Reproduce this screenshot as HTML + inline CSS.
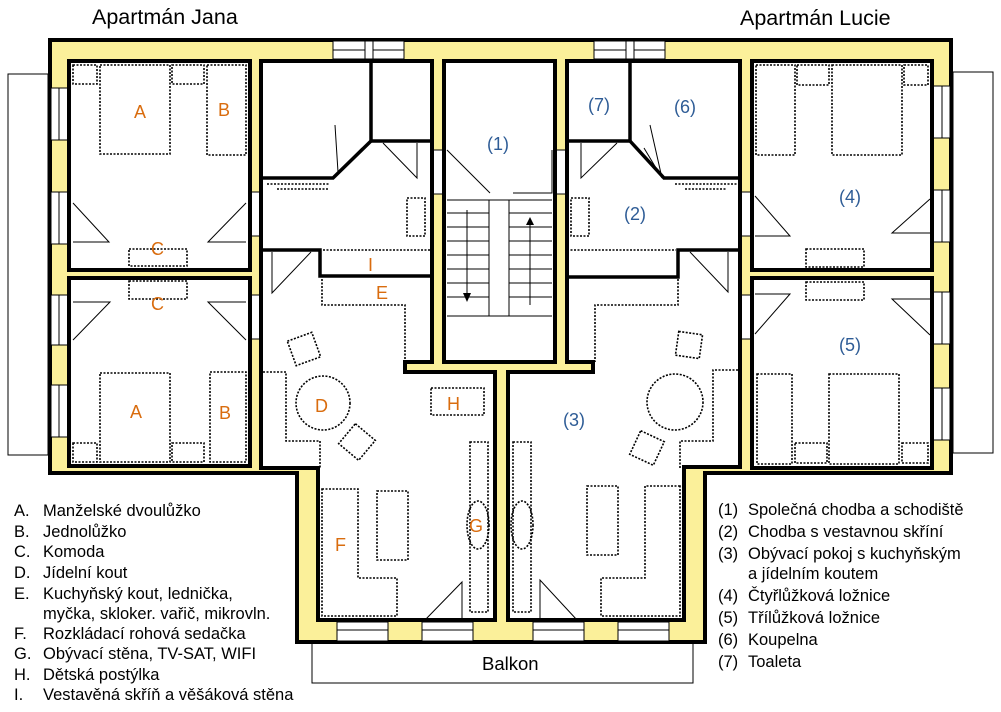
<!DOCTYPE html>
<html><head><meta charset="utf-8"><style>
body{margin:0;background:#fff;width:1001px;height:712px;overflow:hidden}
svg{display:block}
text{font-family:"Liberation Sans",sans-serif}
.o{fill:#d96c0e;font-size:18px}
.b{fill:#2e5c96;font-size:18px}
.k{fill:#000;font-size:16.5px}
.w{fill:#fff;stroke:#000;stroke-width:4}
.d{fill:none;stroke:#000;stroke-width:1.6;stroke-dasharray:2 1.5}
.t{fill:none;stroke:#000;stroke-width:1}
.win{fill:#fff;stroke:#000;stroke-width:1}
</style></head><body>
<svg width="1001" height="712" viewBox="0 0 1001 712">
<text x="92" y="24" style="font-size:21.5px">Apartmán Jana</text>
<text x="740" y="25" style="font-size:21.5px">Apartmán Lucie</text>
<rect x="8" y="74" width="40" height="381" class="t"/>
<rect x="953" y="72" width="40" height="381" class="t"/>
<rect x="312" y="643" width="381" height="40" class="t"/>
<text x="482" y="670" style="font-size:18.5px">Balkon</text>
<polygon points="50,40 951,40 951,473 705,473 705,642 297,642 297,473 50,473" fill="#fbf09a" stroke="#000" stroke-width="4"/>
<rect x="333" y="41" width="71" height="18" class="win"/><line x1="333" y1="50" x2="404" y2="50" class="t"/><rect x="365" y="41" width="8" height="18" class="win"/>
<rect x="594" y="41" width="71" height="18" class="win"/><line x1="594" y1="50" x2="665" y2="50" class="t"/><rect x="626" y="41" width="8" height="18" class="win"/>
<g class="win"><rect x="337" y="622" width="51" height="19"/><rect x="422" y="622" width="51" height="19"/><rect x="533" y="622" width="51" height="19"/><rect x="618" y="622" width="51" height="19"/></g>
<g class="t"><line x1="337" y1="630" x2="388" y2="630"/><line x1="422" y1="630" x2="473" y2="630"/><line x1="533" y1="630" x2="584" y2="630"/><line x1="618" y1="630" x2="669" y2="630"/></g>
<g class="win"><rect x="51" y="88" width="17" height="52"/><rect x="51" y="192" width="17" height="52"/><rect x="51" y="295" width="17" height="50"/><rect x="51" y="385" width="17" height="52"/>
<rect x="933" y="86" width="17" height="52"/><rect x="933" y="190" width="17" height="52"/><rect x="933" y="292" width="17" height="52"/><rect x="933" y="388" width="17" height="52"/>
<rect x="251" y="192" width="9" height="44"/><rect x="251" y="295" width="9" height="44"/><rect x="741" y="192" width="10" height="44"/><rect x="741" y="295" width="10" height="44"/>
<rect x="433" y="150" width="10" height="44"/><rect x="556" y="150" width="10" height="44"/></g>
<g class="t"><line x1="59" y1="88" x2="59" y2="140"/><line x1="59" y1="192" x2="59" y2="244"/><line x1="59" y1="295" x2="59" y2="345"/><line x1="59" y1="385" x2="59" y2="437"/>
<line x1="942" y1="86" x2="942" y2="138"/><line x1="942" y1="190" x2="942" y2="242"/><line x1="942" y1="292" x2="942" y2="344"/><line x1="942" y1="388" x2="942" y2="440"/></g>
<rect x="69" y="61" width="181" height="209" class="w"/>
<rect x="69" y="278" width="181" height="188" class="w"/>
<rect x="752" y="61" width="180" height="209" class="w"/>
<rect x="752" y="278" width="180" height="190" class="w"/>
<rect x="444" y="61" width="111" height="301" class="w"/>
<polygon class="w" points="261,61 432,61 432,362 405,362 405,372 495,372 495,620 318,620 318,468 261,468"/>
<polygon class="w" points="567,61 740,61 740,467 684,467 684,620 508,620 508,372 593,372 593,362 567,362"/>
<g stroke="#000" stroke-width="3.5" fill="none">
<polyline points="371,61 371,141 432,141"/><polyline points="371,141 333,178 261,178"/>
<polyline points="261,250 320,250 320,276 432,276"/>
<polyline points="630,61 630,141 567,141"/><polyline points="630,141 664,178 740,178"/>
<polyline points="740,250 678,250 678,277 567,277"/>
</g>
<g class="t">
<polyline points="335,125 338,172 362,148"/><polyline points="383,143 417,178 417,143"/>
<polyline points="272,252 272,293 311,252"/><polyline points="728,252 728,292 690,252"/>
<polyline points="650,125 662,178 644,148"/><polyline points="581,143 581,178 617,143"/>
<polyline points="513,193 552,193 552,150"/><polyline points="490,193 447,150"/>
<polyline points="73,242 109,242 73,203"/><polyline points="246,242 208,242 246,203"/>
<polyline points="73,302 110,302 73,340"/><polyline points="246,302 208,302 246,340"/>
<polyline points="755,196 790,236 755,236"/><polyline points="930,199 892,233 930,233"/>
<polyline points="755,294 790,294 755,334"/><polyline points="930,299 892,299 930,335"/>
<polyline points="462,620 462,582 425,620"/><polyline points="540,620 540,580 577,620"/>
</g>
<g class="t">
<line x1="447" y1="200" x2="552" y2="200"/><line x1="447" y1="213" x2="552" y2="213"/><line x1="447" y1="227" x2="552" y2="227"/><line x1="447" y1="241" x2="552" y2="241"/><line x1="447" y1="255" x2="552" y2="255"/><line x1="447" y1="269" x2="552" y2="269"/><line x1="447" y1="283" x2="552" y2="283"/><line x1="447" y1="297" x2="552" y2="297"/><line x1="447" y1="316" x2="552" y2="316"/>
<rect x="489" y="200" width="20" height="116" fill="#fff"/>
<line x1="467" y1="210" x2="467" y2="295"/><line x1="530" y1="305" x2="530" y2="222"/>
</g>
<polygon points="463,293 471,293 467,302"/><polygon points="526,225 534,225 530,217"/>
<g class="d">
<rect x="73" y="65" width="24" height="19"/><rect x="100" y="65" width="70" height="89"/><rect x="172" y="65" width="32" height="19"/><rect x="207" y="65" width="39" height="90"/>
<rect x="129" y="249" width="58" height="17"/><rect x="129" y="281" width="58" height="18"/>
<rect x="100" y="373" width="70" height="89"/><rect x="73" y="443" width="24" height="19"/><rect x="172" y="443" width="32" height="19"/><rect x="210" y="372" width="36" height="90"/>
<rect x="756" y="65" width="39" height="90"/><rect x="797" y="65" width="32" height="20"/><rect x="832" y="65" width="70" height="90"/><rect x="904" y="65" width="24" height="20"/>
<rect x="806" y="249" width="58" height="18"/><rect x="806" y="282" width="58" height="18"/>
<rect x="757" y="374" width="35" height="90"/><rect x="829" y="374" width="70" height="90"/><rect x="795" y="443" width="32" height="20"/><rect x="902" y="443" width="26" height="20"/>
<line x1="267" y1="184" x2="330" y2="184"/><line x1="277" y1="189" x2="328" y2="189"/>
<line x1="675" y1="184" x2="738" y2="184"/><line x1="685" y1="189" x2="726" y2="189"/>
<rect x="407" y="198" width="18" height="38"/><rect x="571" y="198" width="18" height="38"/>
<line x1="323" y1="250" x2="432" y2="250"/><line x1="567" y1="250" x2="676" y2="250"/>
<polyline points="322,279 322,305 405,305 405,362"/><polyline points="678,279 678,305 595,305 595,362"/>
<circle cx="323" cy="403" r="27"/><circle cx="675" cy="402" r="28"/>
<rect x="291" y="336" width="26" height="26" transform="rotate(-20 304 349)"/>
<rect x="344" y="429" width="26" height="26" transform="rotate(40 357 442)"/>
<rect x="677" y="333" width="24" height="24" transform="rotate(8 689 345)"/>
<rect x="634" y="435" width="26" height="26" transform="rotate(25 647 448)"/>
<polyline points="263,372 286,372 286,441 320,441 320,468"/><polyline points="738,370 713,370 713,441 680,441 680,468"/>
<rect x="431" y="388" width="53" height="27"/>
<polygon points="322,489 358,489 358,578 397,578 397,616 322,616"/>
<polygon points="680,486 645,486 645,578 601,578 601,616 680,616"/>
<rect x="377" y="491" width="31" height="69"/><rect x="587" y="486" width="31" height="69"/>
<rect x="470" y="442" width="18" height="170"/><rect x="513" y="442" width="18" height="170"/>
<ellipse cx="478" cy="525" rx="11" ry="24"/><ellipse cx="522" cy="525" rx="11" ry="24"/>
</g>
<text class="o" x="134" y="118">A</text><text class="o" x="218" y="116">B</text><text class="o" x="151" y="255">C</text>
<text class="o" x="151" y="310">C</text><text class="o" x="130" y="418">A</text><text class="o" x="219" y="419">B</text>
<text class="o" x="368" y="271">I</text><text class="o" x="376" y="299">E</text><text class="o" x="315" y="412">D</text>
<text class="o" x="447" y="410">H</text><text class="o" x="335" y="551">F</text><text class="o" x="469" y="532">G</text>
<text class="b" x="487" y="150">(1)</text><text class="b" x="624" y="220">(2)</text><text class="b" x="563" y="426">(3)</text>
<text class="b" x="839" y="203">(4)</text><text class="b" x="839" y="351">(5)</text><text class="b" x="674" y="113">(6)</text><text class="b" x="588" y="111">(7)</text>
<g class="k">
<text x="14" y="516">A.</text><text x="43" y="516">Manželské dvoulůžko</text>
<text x="14" y="537">B.</text><text x="43" y="537">Jednolůžko</text>
<text x="14" y="557">C.</text><text x="43" y="557">Komoda</text>
<text x="14" y="578">D.</text><text x="43" y="578">Jídelní kout</text>
<text x="14" y="599">E.</text><text x="43" y="599">Kuchyňský kout, lednička,</text>
<text x="43" y="619">myčka, skloker. vařič, mikrovln.</text>
<text x="14" y="639">F.</text><text x="43" y="639">Rozkládací rohová sedačka</text>
<text x="14" y="659">G.</text><text x="43" y="659">Obývací stěna, TV-SAT, WIFI</text>
<text x="14" y="680">H.</text><text x="43" y="680">Dětská postýlka</text>
<text x="14" y="700">I.</text><text x="43" y="700">Vestavěná skříň a věšáková stěna</text>
<text x="718" y="515">(1)</text><text x="748" y="515">Společná chodba a schodiště</text>
<text x="718" y="537">(2)</text><text x="748" y="537">Chodba s vestavnou skříní</text>
<text x="718" y="559">(3)</text><text x="748" y="559">Obývací pokoj s kuchyňským</text>
<text x="748" y="579">a jídelním koutem</text>
<text x="718" y="601">(4)</text><text x="748" y="601">Čtyřlůžková ložnice</text>
<text x="718" y="623">(5)</text><text x="748" y="623">Třílůžková ložnice</text>
<text x="718" y="645">(6)</text><text x="748" y="645">Koupelna</text>
<text x="718" y="667">(7)</text><text x="748" y="667">Toaleta</text>
</g>
</svg>
</body></html>
